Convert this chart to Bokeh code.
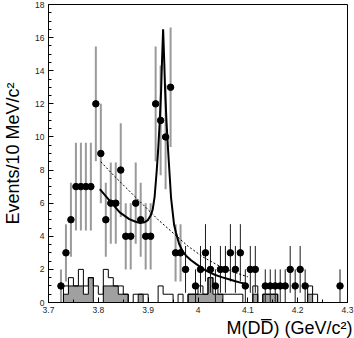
import numpy as np
from bokeh.plotting import figure
from bokeh.models import FixedTicker, CustomJSTickFormatter, Title, Range1d
from bokeh.embed import file_html
from bokeh.resources import INLINE

# ---- data points: bin centres (GeV/c^2) and event counts ----
mass = [3.725, 3.735, 3.745, 3.755, 3.765, 3.775, 3.785, 3.795, 3.805, 3.815,
        3.825, 3.835, 3.845, 3.855, 3.865, 3.875, 3.885, 3.895, 3.905, 3.915,
        3.925, 3.935, 3.945, 3.955, 3.965, 3.975, 3.995, 4.005, 4.015, 4.025,
        4.035, 4.045, 4.055, 4.065, 4.075, 4.085, 4.095, 4.105, 4.115, 4.135,
        4.145, 4.155, 4.165, 4.175, 4.185, 4.195, 4.205, 4.215, 4.285]
counts = [1, 3, 5, 7, 7, 7, 7, 12, 9, 5,
          6, 6, 8, 4, 4, 6, 5, 4, 4, 12,
          11, 10, 13, 3, 3, 2, 1, 2, 3, 2,
          1, 2, 2, 3, 2, 3, 1, 2, 2, 1,
          1, 1, 1, 1, 2, 1, 2, 1, 1]

# ---- background histograms (10 MeV bins, left edges) ----
hist_left = [3.73, 3.74, 3.75, 3.76, 3.77, 3.78, 3.79, 3.80, 3.81, 3.82,
             3.83, 3.84, 3.85, 3.86, 3.87, 3.88, 3.89, 3.90, 3.91, 3.92,
             3.93, 3.94, 3.95, 3.96, 3.97, 3.98, 3.99, 4.00, 4.01, 4.02,
             4.03, 4.04, 4.05, 4.06, 4.07, 4.08, 4.09, 4.10, 4.11, 4.12,
             4.13, 4.14, 4.15, 4.16, 4.17, 4.18, 4.19, 4.20, 4.21, 4.22,
             4.23, 4.24, 4.25, 4.26, 4.27, 4.28]
open_hist = [1.0, 1.5, 1.0, 2.0, 1.0, 1.5, 1.0, 0.5, 2.0, 1.5,
             1.0, 1.0, 0.5, 0.0, 0.5, 0.5, 0.5, 0.0, 0.0, 1.0,
             0.5, 0.5, 0.0, 0.5, 0.0, 0.5, 0.5, 1.0, 0.5, 1.5,
             1.0, 0.5, 0.5, 0.5, 0.5, 0.5, 0.0, 0.0, 1.0, 0.0,
             0.5, 0.5, 0.5, 0.0, 0.0, 0.0, 0.0, 0.0, 0.0, 1.0,
             0.5, 0.0, 0.0, 0.0, 0.0, 0.0]
gray_hist = [0.5, 1.0, 1.0, 1.0, 0.5, 1.5, 0.0, 0.0, 1.0, 1.0,
             1.0, 0.5, 0.5, 0.0, 0.0, 0.5, 0.0, 0.0, 0.0, 0.0,
             0.0, 0.0, 0.0, 0.0, 0.0, 0.5, 0.5, 0.5, 0.5, 1.5,
             0.5, 0.5, 0.0, 0.0, 0.0, 0.0, 0.0, 0.0, 0.5, 0.0,
             0.5, 0.5, 0.5, 0.0, 0.0, 0.0, 0.0, 0.0, 0.0, 0.5,
             0.0, 0.0, 0.0, 0.0, 0.0, 0.0]
bin_width = 0.01

# ---- fit curve (signal + background) ----
fit_x = [3.803, 3.823, 3.843, 3.862, 3.875, 3.884, 3.892, 3.899, 3.905, 3.909,
         3.913, 3.917, 3.920, 3.923, 3.926, 3.928, 3.930, 3.932, 3.934, 3.937,
         3.940, 3.943, 3.946, 3.949, 3.952, 3.956, 3.962, 3.969, 3.976, 3.986,
         3.996, 4.009, 4.022, 4.035, 4.049, 4.062, 4.075, 4.085, 4.095]
fit_y = [6.85, 6.14, 5.44, 5.04, 4.88, 4.80, 4.84, 4.96, 5.25, 5.60,
         6.40, 7.90, 9.20, 10.8, 12.8, 14.8, 16.5, 14.8, 12.8, 10.8,
         9.20, 7.75, 6.30, 5.50, 4.70, 4.20, 3.55, 3.10, 2.83, 2.55,
         2.33, 2.05, 1.83, 1.66, 1.52, 1.40, 1.28, 1.20, 1.13]

# ---- background-only curve (dashed) ----
bkg_x = [3.805, 3.83, 3.86, 3.89, 3.92, 3.95, 3.98, 4.01, 4.04, 4.07, 4.10]
bkg_y = [8.5, 7.7, 6.8, 5.9, 5.0, 4.2, 3.4, 2.75, 2.25, 1.85, 1.55]

x_ticks = [3.7, 3.8, 3.9, 4.0, 4.1, 4.2, 4.3]
y_ticks = [0, 2, 4, 6, 8, 10, 12, 14, 16, 18]
x_title = "M(DD\u0305) (GeV/c²)"
y_title = "Events/10 MeV/c²"

FONT = "Liberation Sans"

p = figure(width=354, height=338, output_backend="svg", toolbar_location=None,
           x_range=Range1d(3.7, 4.3), y_range=Range1d(0, 18),
           min_border_left=48, min_border_right=7, min_border_top=4,
           min_border_bottom=36)
p.background_fill_color = "white"
p.border_fill_color = "white"
p.outline_line_color = "black"
p.outline_line_width = 1
p.grid.visible = False


def step_path(left, width, h):
    xs = [left[0]]
    ys = [0]
    for l, hh in zip(left, h):
        xs += [l, l + width]
        ys += [hh, hh]
    xs.append(left[-1] + width)
    ys.append(0)
    return xs, ys


ox, oy = step_path(hist_left, bin_width, open_hist)
gx, gy = step_path(hist_left, bin_width, gray_hist)
p.patch(ox, oy, fill_color="white", line_color=None)
p.patch(gx, gy, fill_color="#a0a0a0", line_color=None)
p.line(ox, oy, line_color="black", line_width=1)
p.line(gx, gy, line_color="black", line_width=1)

# error bars (sqrt(N))
c = np.array(counts, dtype=float)
m = np.array(mass)
err = np.sqrt(c)
bar_col = ["#9a9a9a" if mm < 3.97 else "#1a1a1a" for mm in mass]
bar_w = [2 if mm < 3.97 else 1 for mm in mass]
p.segment(x0=m, y0=c - err, x1=m, y1=c + err, line_color=bar_col, line_width=bar_w)

p.line(bkg_x, bkg_y, line_color="black", line_width=1, line_dash="2 2")
p.line(fit_x, fit_y, line_color="black", line_width=2)

p.scatter(m, c, size=6.5, color="black", marker="circle")

# axes
xa = p.xaxis[0]
ya = p.yaxis[0]
xa.ticker = FixedTicker(ticks=x_ticks, minor_ticks=list(np.round(np.arange(3.7, 4.301, 0.05), 3)))
ya.ticker = FixedTicker(ticks=y_ticks, minor_ticks=list(np.arange(0, 18.01, 0.5)))
xa.formatter = CustomJSTickFormatter(code="return String(Math.round(tick*10)/10);")
for ax in (xa, ya):
    ax.major_tick_in = 5
    ax.major_tick_out = 0
    ax.minor_tick_in = 3
    ax.minor_tick_out = 0
    ax.axis_line_color = "black"
    ax.major_tick_line_color = "black"
    ax.minor_tick_line_color = "black"
    ax.major_label_text_font = FONT
    ax.major_label_text_font_size = "8.5px"
    ax.major_label_text_color = "#222222"
ya.major_label_standoff = 4
xa.major_label_standoff = 4

ya.axis_label = y_title
ya.axis_label_text_font = FONT
ya.axis_label_text_font_size = "18px"
ya.axis_label_text_font_style = "normal"
ya.axis_label_text_color = "black"
ya.axis_label_standoff = 9

t = Title(text=x_title, align="right", text_font=FONT, text_font_size="18px",
          text_font_style="normal", text_color="black", standoff=0, offset=-5)
p.add_layout(t, "below")

open("out.html", "w").write(file_html(p, INLINE))
